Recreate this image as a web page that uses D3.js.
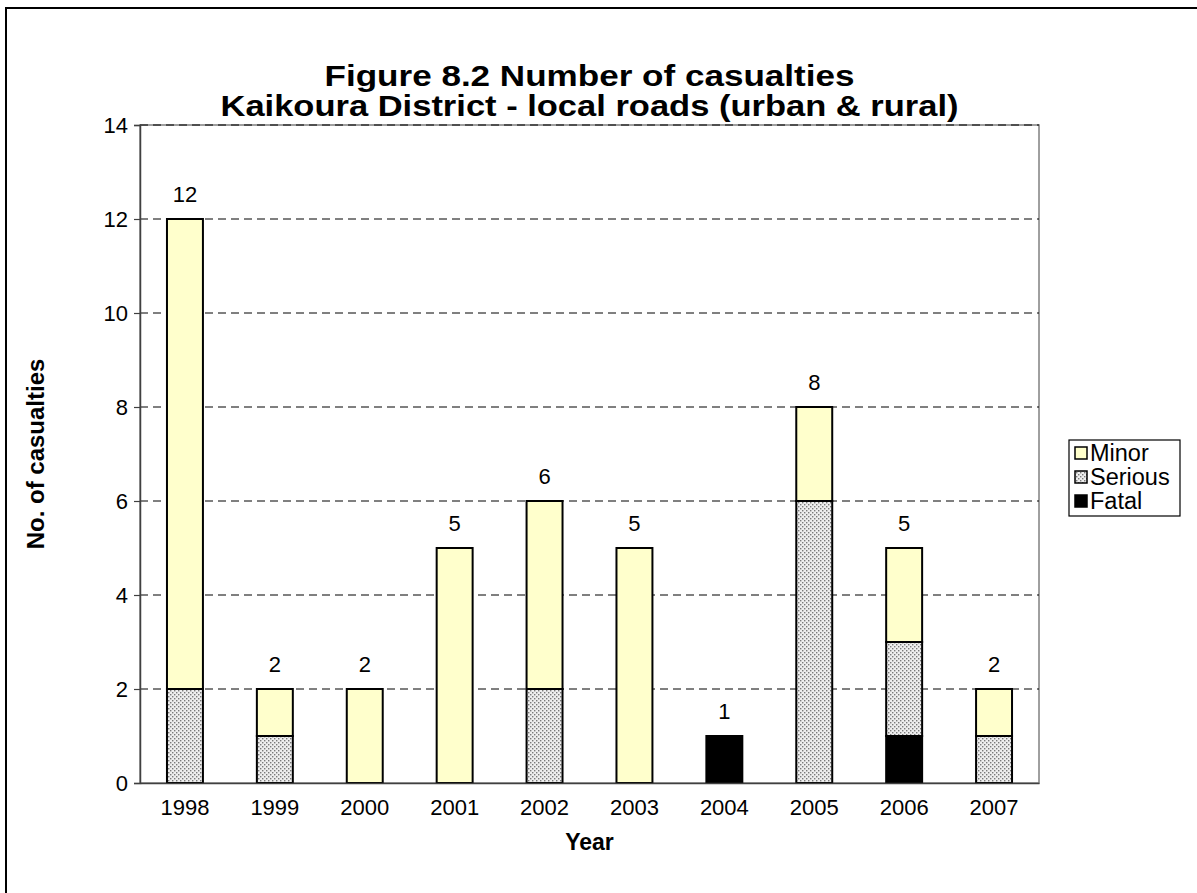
<!DOCTYPE html>
<html><head><meta charset="utf-8">
<script src="https://cdn.jsdelivr.net/npm/d3@7"></script>
<style>body{margin:0;background:#fff}svg{display:block;font-family:"Liberation Sans",Arial,sans-serif}</style>
</head><body><svg id="c" width="1197" height="893"></svg>
<script>
const years = ["1998","1999","2000","2001","2002","2003","2004","2005","2006","2007"];
const fatal   = [0,0,0,0,0,0,1,0,1,0];
const serious = [2,1,0,0,2,0,0,6,2,1];
const minor   = [10,1,2,5,4,5,0,2,2,1];
const seriesNames = ["Fatal","Serious","Minor"];
const legendItems = ["Minor","Serious","Fatal"];
const yTicks = [0,2,4,6,8,10,12,14];
const titleLines = ["Figure 8.2 Number of casualties","Kaikoura District - local roads (urban & rural)"];

const svg = d3.select("#c");
const m = {l:140, r:1039, t:125, b:783};
const FONT = "Liberation Sans, Arial, sans-serif";

const defs = svg.append("defs");
const pat = defs.append("pattern").attr("id","dots").attr("patternUnits","userSpaceOnUse")
  .attr("width",4).attr("height",4);
pat.append("rect").attr("width",4).attr("height",4).attr("fill","#eeeeee");
pat.append("rect").attr("x",0).attr("y",0).attr("width",1.4).attr("height",1.4).attr("fill","#7a7a7a");
pat.append("rect").attr("x",2).attr("y",2).attr("width",1.4).attr("height",1.4).attr("fill","#7a7a7a");

const fills = {Fatal:"#000000", Serious:"url(#dots)", Minor:"#FFFFCC"};

// outer frame
svg.append("rect").attr("x",6).attr("y",8).attr("width",1300).attr("height",1000)
  .attr("fill","none").attr("stroke","#000").attr("stroke-width",2);

const x = d3.scaleBand().domain(years).range([m.l,m.r]).paddingInner(0.6).paddingOuter(0.3);
const y = d3.scaleLinear().domain([0,14]).range([m.b,m.t]);

// plot border
svg.append("rect").attr("x",m.l).attr("y",m.t).attr("width",m.r-m.l).attr("height",m.b-m.t)
  .attr("fill","none").attr("stroke","#808080").attr("stroke-width",1.5);

// gridlines
svg.append("g").selectAll("line").data(yTicks.filter(d=>d>0)).join("line")
  .attr("x1",m.l).attr("x2",m.r).attr("y1",d=>y(d)).attr("y2",d=>y(d))
  .attr("stroke","#000").attr("stroke-width",1).attr("stroke-dasharray","8,5");

// stacked data
const table = years.map((yr,i)=>({year:yr, Fatal:fatal[i], Serious:serious[i], Minor:minor[i]}));
const stack = d3.stack().keys(seriesNames)(table);
svg.append("g").selectAll("g").data(stack).join("g")
  .attr("fill",d=>fills[d.key])
  .selectAll("rect").data(d=>d.filter(p=>p[1]-p[0]>0)).join("rect")
  .attr("x",d=>x(d.data.year)).attr("width",x.bandwidth())
  .attr("y",d=>y(d[1])).attr("height",d=>y(d[0])-y(d[1]))
  .attr("stroke","#000").attr("stroke-width",2);

// totals
svg.append("g").selectAll("text").data(table).join("text")
  .attr("x",d=>x(d.year)+x.bandwidth()/2)
  .attr("y",d=>y(d.Fatal+d.Serious+d.Minor)-17)
  .attr("text-anchor","middle").attr("font-size",22).attr("fill","#000")
  .text(d=>d.Fatal+d.Serious+d.Minor);

// axes
const ya = svg.append("g").attr("transform",`translate(${m.l},0)`)
  .call(d3.axisLeft(y).tickValues(yTicks).tickSize(6).tickPadding(6));
ya.select(".domain").attr("stroke","#404040").attr("stroke-width",1.5);
ya.selectAll(".tick line").attr("stroke","#404040").attr("stroke-width",1.2);
ya.selectAll("text").attr("font-size",22).attr("fill","#000").attr("font-family",FONT);

const xa = svg.append("g").attr("transform",`translate(0,${m.b})`)
  .call(d3.axisBottom(x).tickSize(0).tickPadding(16));
xa.select(".domain").attr("stroke","#404040").attr("stroke-width",1.5);
xa.selectAll("text").attr("font-size",22).attr("fill","#000").attr("font-family",FONT);

// titles
const cx = (m.l+m.r)/2;
const titleLens = [530, 738];
const titleY = [86, 116];
titleLines.forEach((t,i)=>{
  svg.append("text").attr("x",cx).attr("y",titleY[i]).attr("text-anchor","middle")
    .attr("font-size",30).attr("font-weight","bold")
    .attr("textLength",titleLens[i]).attr("lengthAdjust","spacingAndGlyphs").text(t);
});
svg.append("text").attr("x",cx).attr("y",850).attr("text-anchor","middle")
  .attr("font-size",23).attr("font-weight","bold").text("Year");
svg.append("text").attr("transform",`translate(44,${(m.t+m.b)/2}) rotate(-90)`)
  .attr("text-anchor","middle").attr("font-size",24).attr("font-weight","bold").text("No. of casualties");

// legend
const lg = svg.append("g");
lg.append("rect").attr("x",1069).attr("y",440).attr("width",111).attr("height",76)
  .attr("fill","#fff").attr("stroke","#000").attr("stroke-width",1.2);
legendItems.forEach((k,i)=>{
  const yy = 453 + i*24;
  lg.append("rect").attr("x",1075).attr("y",yy-6).attr("width",12).attr("height",12)
    .attr("fill",fills[k]).attr("stroke","#000").attr("stroke-width",1.5);
  lg.append("text").attr("x",1090).attr("y",yy+8).attr("font-size",23.5).text(k);
});
</script></body></html>
